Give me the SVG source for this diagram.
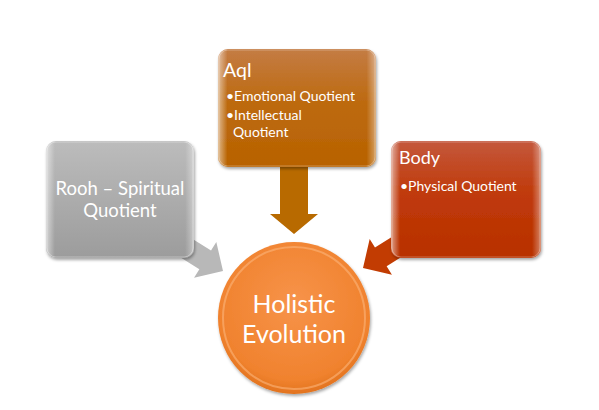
<svg xmlns="http://www.w3.org/2000/svg" width="599" height="410" viewBox="0 0 599 410">
<defs>
<linearGradient id="gAql" x1="0" y1="0" x2="0" y2="1"><stop offset="0" stop-color="#c47c44"/><stop offset="0.45" stop-color="#bd6a10"/><stop offset="1" stop-color="#b86200"/></linearGradient>
<linearGradient id="gRooh" x1="0" y1="0" x2="0" y2="1"><stop offset="0" stop-color="#bcbcbc"/><stop offset="1" stop-color="#9c9c9c"/></linearGradient>
<linearGradient id="gBody" x1="0" y1="0" x2="0" y2="1"><stop offset="0" stop-color="#c4583c"/><stop offset="0.45" stop-color="#c03a0a"/><stop offset="1" stop-color="#b83000"/></linearGradient>
<linearGradient id="gEdge" x1="0" y1="0" x2="1" y2="0"><stop offset="0" stop-color="#fff" stop-opacity="0.55"/><stop offset="0.06" stop-color="#fff" stop-opacity="0"/><stop offset="0.94" stop-color="#fff" stop-opacity="0"/><stop offset="1" stop-color="#fff" stop-opacity="0.4"/></linearGradient>
<radialGradient id="gCirc" cx="0.5" cy="0.4" r="0.6"><stop offset="0" stop-color="#f7934a"/><stop offset="0.85" stop-color="#f0822e"/><stop offset="1" stop-color="#e2731e"/></radialGradient>
<filter id="sh" x="-10%" y="-10%" width="130%" height="130%"><feDropShadow dx="1" dy="2" stdDeviation="1.5" flood-color="#000" flood-opacity="0.35"/></filter>
<path id="arr" d="M0,0 L-21,-21 L-21,-11 L-80,-11 L-80,11 L-21,11 L-21,21 Z"/>
</defs>
<style>
.t{font-family:Lato,"Open Sans","Liberation Sans",sans-serif;fill:#fff}
.box{filter:url(#sh)}
.edge{fill:url(#gEdge)}
</style>
<g id="connectors">
<path d="M280,160 L308,160 L308,214 L318,214 L294,234 L270,214 L280,214 Z" fill="#b86a00"/>
<use href="#arr" transform="translate(223,271) rotate(32)" fill="#b8b8b8"/>
<use href="#arr" transform="translate(363,268) rotate(148)" fill="#c23c02"/>
</g>
<g id="rooh">
<rect class="box" x="46" y="141" width="148" height="117" rx="10" fill="url(#gRooh)"/>
<rect x="46" y="141" width="148" height="117" rx="10" class="edge"/>
<rect x="47" y="142" width="146" height="115" rx="9" fill="none" stroke="#fff" stroke-opacity="0.35" stroke-width="1"/>
<text class="t" x="120" y="195" font-size="18.5" text-anchor="middle">Rooh – Spiritual</text>
<text class="t" x="120" y="217" font-size="18.5" text-anchor="middle">Quotient</text>
</g>
<g id="aql">
<rect class="box" x="218" y="49" width="158" height="118" rx="10" fill="url(#gAql)"/>
<rect x="218" y="49" width="158" height="118" rx="10" class="edge"/>
<rect x="219" y="50" width="156" height="116" rx="9" fill="none" stroke="#fff" stroke-opacity="0.3" stroke-width="1"/>
<text class="t" x="223" y="77" font-size="19.5">Aql</text>
<text class="t" x="226" y="101" font-size="14">•Emotional Quotient</text>
<text class="t" x="226" y="120" font-size="14">•Intellectual</text>
<text class="t" x="233" y="137" font-size="14">Quotient</text>
</g>
<g id="body">
<rect class="box" x="391" y="141" width="150" height="117" rx="10" fill="url(#gBody)"/>
<rect x="391" y="141" width="150" height="117" rx="10" class="edge"/>
<rect x="392" y="142" width="148" height="115" rx="9" fill="none" stroke="#fff" stroke-opacity="0.3" stroke-width="1"/>
<text class="t" x="399" y="164" font-size="18">Body</text>
<text class="t" x="400" y="191" font-size="14">•Physical Quotient</text>
</g>
<g id="holistic">
<circle class="box" cx="294" cy="318" r="76" fill="url(#gCirc)"/>
<circle cx="294" cy="318" r="71" fill="none" stroke="#fbb47a" stroke-opacity="0.6" stroke-width="2"/>
<text class="t" x="294" y="313" font-size="25" text-anchor="middle">Holistic</text>
<text class="t" x="294" y="343" font-size="25" text-anchor="middle">Evolution</text>
</g>
</svg>
